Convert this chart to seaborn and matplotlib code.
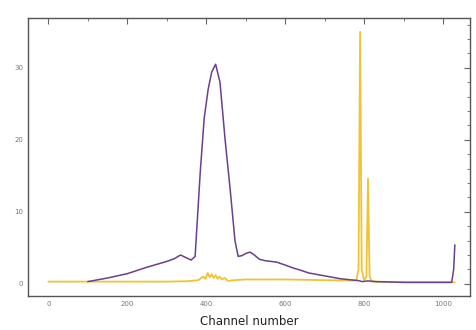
import matplotlib
matplotlib.use("Agg")
import matplotlib.pyplot as plt
from matplotlib.ticker import MultipleLocator
import seaborn as sns
import pandas as pd

# purple spectrum
purple_ch = [100, 150, 200, 250, 300, 320, 335, 350, 362, 372, 385, 395, 405, 414, 424,
             435, 448, 461, 473, 481, 490, 500, 511, 522, 535, 550, 565, 579, 600, 620,
             638, 660, 700, 740, 765, 785, 795, 810, 830, 900, 1000, 1022, 1027, 1030]
purple_val = [0.3, 0.8, 1.4, 2.3, 3.1, 3.5, 4.0, 3.6, 3.3, 3.8, 15.5, 23.0, 27.0, 29.4, 30.5,
              28.0, 20.0, 13.0, 6.0, 3.8, 3.9, 4.2, 4.4, 4.0, 3.4, 3.2, 3.1, 3.0, 2.6, 2.2,
              1.9, 1.5, 1.1, 0.7, 0.55, 0.45, 0.3, 0.4, 0.3, 0.2, 0.2, 0.2, 2.0, 5.4]

# yellow spectrum
yellow_ch = [0, 100, 200, 300, 350, 380, 392, 398, 404, 409, 414, 419, 424, 429, 434, 440,
             447, 455, 470, 500, 600, 700, 780, 786, 790, 794, 800, 806, 810, 814, 820,
             900, 1000, 1030]
yellow_val = [0.3, 0.3, 0.3, 0.3, 0.35, 0.5, 1.0, 0.7, 1.5, 0.9, 1.3, 0.8, 1.2, 0.7, 1.0, 0.6,
              0.8, 0.4, 0.5, 0.6, 0.6, 0.5, 0.45, 2.0, 35.0, 2.0, 0.5, 1.0, 14.6, 1.0, 0.3,
              0.2, 0.2, 0.2]

df_p = pd.DataFrame({"channel": purple_ch, "counts": purple_val})
df_y = pd.DataFrame({"channel": yellow_ch, "counts": yellow_val})

sns.set_style("white")
fig = plt.figure(figsize=(4.77, 3.30), dpi=100)
ax = fig.add_axes([0.059, 0.103, 0.926, 0.842])

sns.lineplot(data=df_y, x="channel", y="counts", color="#F2C230", lw=1.3, ax=ax)
sns.lineplot(data=df_p, x="channel", y="counts", color="#6B3E8E", lw=1.1, ax=ax)

ax.set_xlim(-51, 1068)
ax.set_ylim(-1.7, 36.9)
ax.set_xticks([0, 200, 400, 600, 800, 1000])
ax.set_yticks([0, 10, 20, 30])
ax.xaxis.set_minor_locator(MultipleLocator(100))
ax.yaxis.set_minor_locator(MultipleLocator(2))
ax.tick_params(which="both", direction="in", top=True, right=True, colors="#666666",
               labelsize=5, labelcolor="#777777")
ax.tick_params(which="major", length=4)
ax.tick_params(which="minor", length=2)
for s in ax.spines.values():
    s.set_color("#555555")
    s.set_linewidth(1.0)
ax.set_xlabel("Channel number", fontsize=8.5, color="#222222", labelpad=6)
ax.set_ylabel("")

fig.savefig("out.png", dpi=100)
